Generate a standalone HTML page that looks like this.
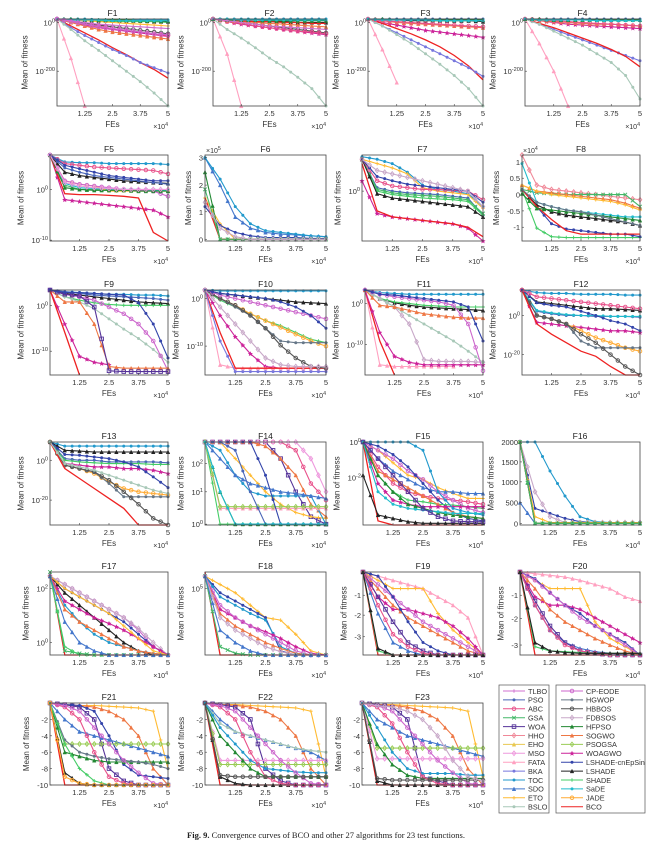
<!DOCTYPE html>
<html><head><meta charset="utf-8"><style>
html,body{margin:0;padding:0;background:#fff;}
body{width:653px;height:843px;position:relative;overflow:hidden;font-family:"Liberation Sans",sans-serif;}
svg{position:absolute;left:0;top:0;}
</style></head><body>
<svg id="fig" width="653" height="843" xmlns="http://www.w3.org/2000/svg"></svg>
<script>
// Algorithm names and colours
const algNames = ["TLBO","PSO","ABC","GSA","WOA","HHO","EHO","MSO","FATA","BKA","TOC","SDO","ETO","BSLO","CP-EODE","HGWOP","HBBOS","FDBSOS","HFPSO","SOGWO","PSOGSA","WOAGWO","LSHADE-cnEpSin","LSHADE","SHADE","SaDE","JADE","BCO"];
const algColors = ["#d070d0","#4a66b8","#e8508a","#44b868","#553399","#f08898","#e8c850","#ee99dd","#ffa0c0","#7777dd","#2299cc","#4477cc","#ffbb33","#a8c8b8","#cc66cc","#667788","#555555","#c8a8c8","#228833","#ee7744","#99cc55","#cc2299","#3344aa","#222222","#44cc66","#22bbcc","#ffaa33","#ee2222"];
const markerShapes = ["plus","dot","circle","x","square","diamond","tri","diamond","tri","dot","dot","tri","plus","dot","circle","dot","circle","diamond","tri","tri","diamond","star","dot","tri","plus","dot","circle","none"];
// x grid (×10^4) shared by every series
const fes = [0,0.625,1.25,1.875,2.5,3.125,3.75,4.375,5];
const xTicks = [1.25,2.5,3.75,5];
// Panel titles and their y ticks [label, depth% from top]
const titles = ["F1","F2","F3","F4","F5","F6","F7","F8","F9","F10","F11","F12","F13","F14","F15","F16","F17","F18","F19","F20","F21","F22","F23"];
const yTicks = [
 [["10^0",4],["10^-200",60]],[["10^0",4],["10^-200",60]],[["10^0",4],["10^-200",60]],[["10^0",4],["10^-200",60]],
 [["10^0",40],["10^-10",99]],[["3",3],["2",35],["1",66],["0",98]],[["10^0",42]],[["1",8],["0.5",27],["0",46],["-0.5",65],["-1",84]],
 [["10^0",18],["10^-10",72]],[["10^0",10],["10^-10",66]],[["10^0",16],["10^-10",64]],[["10^0",30],["10^-20",76]],
 [["10^0",22],["10^-20",70]],[["10^2",26],["10^1",60],["10^0",99]],[["10^0",0],["10^-2",43]],[["2000",0],["1500",24],["1000",48],["500",73],["0",98]],
 [["10^2",20],["10^0",85]],[["10^5",20]],[["-1",28],["-2",52],["-3",78]],[["-1",28],["-2",56],["-3",88]],
 [["-2",20],["-4",40],["-6",60],["-8",80],["-10",100]],[["-2",20],["-4",40],["-6",60],["-8",80],["-10",100]],[["-2",20],["-4",40],["-6",60],["-8",80],["-10",100]]
];
// Series per panel: [algorithmIndex, values as depth% at each fes point]
const F1 = [[1,0,1,1,2,2,2,2,2,2],[10,0,0,0,1,1,1,1,1,1],[23,0,1,1,2,2,2,2,3,3],[24,0,1,2,2,3,3,3,3,4],[16,0,3,5,7,9,11,13,15,17],[21,0,4,7,10,12,14,16,18,20],[2,0,3,6,8,11,13,15,17,19],[19,0,4,8,12,15,17,19,21,23],[27,0,8,16,24,33,41,50,58,68],[9,0,10,19,27,35,42,50,56,62],[13,0,12,25,36,48,60,72,85,100],[8,0,45,100,null,null,null,null,null,null],[12,0,1,2,3,4,5,6,7,8],[18,0,0,1,1,1,1,2,2,2],[25,0,1,1,1,2,2,2,2,2],[0,0,2,4,6,7,8,9,10,11],[14,0,3,6,9,11,13,15,17,18]];
const F2 = [[1,0,1,1,1,2,2,2,2,2],[10,0,0,0,0,0,0,0,0,0],[23,0,1,2,3,3,3,4,4,4],[16,0,2,4,6,8,10,12,14,16],[21,0,3,6,8,10,12,14,16,18],[2,0,3,5,8,10,12,14,15,17],[19,0,2,3,4,5,6,7,8,9],[13,0,12,22,33,45,55,67,80,100],[8,0,40,100,null,null,null,null,null,null],[27,0,1,2,3,3,4,4,5,5],[18,0,1,1,1,2,2,2,2,2],[25,0,0,1,1,1,1,1,1,1],[0,0,2,4,6,8,9,10,11,12]];
const F3 = [[1,0,0,0,0,0,0,0,0,0],[10,0,1,1,1,1,1,1,1,1],[23,0,1,1,2,2,2,2,2,3],[21,0,4,7,10,13,15,17,19,21],[19,0,2,4,5,6,7,8,9,10],[27,0,5,11,17,24,32,42,54,70],[9,0,8,16,24,32,40,48,56,66],[13,0,8,18,28,40,52,65,80,100],[8,0,35,73,null,null,null,null,null,null],[18,0,0,1,1,1,1,1,1,1],[2,0,2,3,4,5,6,7,8,9],[25,0,1,1,1,1,2,2,2,2]];
const F4 = [[1,0,0,0,0,0,0,0,0,0],[10,0,1,1,1,1,1,1,1,1],[21,0,2,4,6,7,8,9,10,11],[19,0,2,3,4,5,6,6,7,8],[9,0,6,12,18,24,30,36,42,48],[27,0,5,10,16,22,28,35,43,55],[13,0,6,14,22,30,40,50,65,92],[8,0,28,60,100,null,null,null,null,null],[2,0,1,2,3,4,5,6,7,8],[18,0,0,1,1,1,1,1,1,1],[25,0,1,1,1,1,2,2,2,2]];
const F5 = [[10,0,8,9,9,10,10,10,10,11],[2,0,10,12,14,15,16,17,18,22],[23,0,20,24,26,28,30,31,32,33],[1,0,15,20,24,26,28,30,32,34],[3,0,35,40,40,41,41,41,41,42],[25,0,33,38,39,40,40,40,41,41],[12,0,30,34,36,42,42,42,42,42],[14,0,30,34,36,38,40,41,42,48],[21,0,52,54,56,58,60,62,64,72],[27,0,45,46,46,47,48,50,90,100],[18,0,38,40,41,41,41,42,42,42],[22,0,12,16,20,24,26,28,30,30],[7,0,32,36,38,39,40,40,40,40]];
const F6 = [[11,3,35,72,85,90,92,93,94,95],[10,3,28,60,80,88,90,92,94,95],[12,50,80,98,98,98,98,98,98,98],[22,60,82,90,94,96,96,96,97,97],[18,20,98,98,98,98,98,98,98,98],[27,50,98,98,98,98,98,98,98,98],[3,40,98,98,98,98,98,98,98,98],[17,55,85,95,98,98,98,98,98,98]];
const F7 = [[10,2,5,10,20,35,40,42,45,60],[12,5,10,15,22,38,42,44,46,62],[1,5,38,42,44,45,46,48,50,70],[3,5,40,44,46,47,48,50,52,68],[24,5,42,46,48,50,51,52,54,70],[23,5,45,50,52,54,56,58,60,72],[21,30,68,72,74,76,78,80,85,100],[27,10,65,72,74,76,78,80,84,95],[2,5,30,36,38,40,40,41,42,52],[22,5,25,30,34,36,38,40,42,55],[17,5,18,22,26,30,34,38,42,60]];
const F8 = [[5,0,35,40,42,44,46,48,50,52],[24,40,85,95,96,96,96,96,96,96],[22,40,60,80,86,88,90,92,92,95],[23,40,58,66,70,72,74,76,78,82],[3,40,44,45,46,46,46,46,46,60],[19,35,42,44,46,48,50,52,56,62],[27,40,60,75,88,92,92,92,92,92],[12,35,42,46,48,50,52,54,58,64],[25,10,55,60,64,66,68,70,72,72],[18,45,62,64,66,68,70,72,74,76],[15,40,55,60,64,66,70,74,78,82]];
const F9 = [[10,0,2,3,4,5,5,6,6,7],[23,0,4,6,8,10,12,14,15,16],[1,0,2,4,6,7,8,9,10,12],[24,0,8,12,15,17,18,18,18,18],[13,0,8,14,22,34,46,57,70,85],[14,0,5,8,12,20,28,40,60,95],[21,0,40,78,85,88,null,null,null,null],[19,0,14,14,40,90,92,92,92,92],[4,0,5,7,20,95,96,96,96,96],[27,0,50,100,null,null,null,null,null,null],[22,0,3,3,4,5,6,15,40,80]];
const F10 = [[10,0,1,1,1,1,1,1,1,1],[23,0,4,6,8,10,12,14,15,16],[24,0,12,20,28,36,42,50,58,62],[26,0,10,18,28,36,44,52,60,66],[15,0,10,20,30,45,60,62,62,62],[21,0,30,55,75,90,92,92,92,92],[8,0,88,92,92,92,92,92,92,92],[27,0,50,92,92,92,92,92,92,92],[16,0,10,18,30,45,65,80,90,92],[14,0,6,10,14,18,22,26,30,34],[9,0,60,96,96,96,96,96,96,96],[22,0,4,6,8,10,14,20,30,45],[17,0,20,40,60,80,88,90,90,90]];
const F11 = [[10,0,3,4,5,5,5,5,5,5],[23,0,10,15,18,20,21,22,23,24],[24,0,10,14,16,18,19,20,20,20],[8,0,88,90,90,90,90,90,null,null],[27,0,60,100,null,null,null,null,null,null],[21,0,50,78,85,88,88,88,88,88],[17,0,10,20,40,82,84,84,84,85],[13,0,10,20,30,40,50,60,72,85],[14,0,5,8,10,12,14,18,40,95],[19,0,18,20,24,28,30,32,33,33],[22,0,5,6,8,10,12,14,20,60]];
const F12 = [[10,0,3,4,4,5,5,5,6,6],[23,0,14,16,18,20,22,22,23,24],[1,0,25,28,30,30,31,31,31,32],[25,0,24,27,29,30,30,31,31,31],[21,0,38,40,42,44,46,48,48,50],[26,0,30,34,40,48,56,62,68,72],[15,0,30,34,40,60,68,68,68,68],[16,0,30,34,40,52,62,76,90,100],[27,0,40,52,62,72,78,90,100,100],[22,0,15,18,20,25,30,36,40,48],[2,0,8,10,12,14,16,18,20,22]];
const F13 = [[10,0,5,5,5,5,5,5,5,5],[23,0,10,11,12,12,12,12,12,12],[1,0,20,22,22,24,24,24,24,25],[24,0,22,24,25,26,26,26,27,27],[21,0,26,28,30,30,32,32,34,38],[22,0,15,16,18,20,24,30,42,55],[26,0,28,32,38,48,56,60,62,64],[15,0,28,32,36,50,66,66,66,66],[16,0,28,32,36,46,60,75,92,100],[27,0,32,44,56,68,80,100,100,100],[13,0,26,30,34,40,46,52,58,62]];
const F14 = [[4,0,0,0,0,0,20,60,90,99],[2,0,0,0,0,0,0,10,50,70],[7,0,0,0,0,0,0,0,20,60],[19,0,0,0,0,5,20,40,75,90],[12,0,0,20,40,60,75,85,90,92],[10,0,10,40,60,65,65,65,65,99],[24,0,99,99,99,99,99,99,99,99],[18,0,60,99,99,99,99,99,99,99],[11,0,20,40,50,55,60,62,65,68],[8,0,80,80,80,80,80,80,80,80],[20,0,78,78,78,78,78,78,78,78],[22,0,0,0,0,40,99,99,99,99],[1,0,0,10,60,99,99,99,99,99],[25,0,60,99,99,99,99,99,99,99]];
const F15 = [[27,0,95,100,100,100,100,100,100,100],[23,40,88,92,96,98,98,98,98,98],[12,0,10,25,40,45,55,62,68,68],[11,0,20,35,45,55,60,60,62,62],[2,0,30,50,60,65,68,70,72,75],[14,0,10,20,35,45,60,70,80,85],[22,0,5,15,30,50,70,85,92,95],[24,0,40,60,70,72,75,76,78,80],[19,0,35,45,55,65,75,85,90,92],[21,0,50,70,75,78,78,78,78,78],[10,0,0,0,0,10,60,80,85,88],[18,0,40,60,75,80,85,88,90,92],[25,0,60,75,80,82,84,86,86,86],[4,0,20,40,60,80,90,95,96,96]];
const F16 = [[10,0,0,35,65,90,96,97,97,97],[22,0,80,86,92,96,97,97,97,97],[17,0,60,90,97,97,97,97,97,97],[12,0,90,97,97,97,97,97,97,97],[11,73,98,98,98,98,98,98,98,98],[27,0,98,98,98,98,98,98,98,98],[18,0,98,98,98,98,98,98,98,98],[3,0,98,98,98,98,98,98,98,98]];
const F17 = [[27,0,100,100,100,100,100,100,100,100],[3,0,95,98,100,100,100,100,100,100],[14,5,15,25,35,45,55,70,90,100],[17,5,15,25,35,45,55,68,85,100],[22,5,20,30,40,50,60,75,90,100],[23,5,25,40,55,70,85,95,100,100],[10,5,40,60,75,85,90,95,98,100],[21,5,35,45,55,62,70,80,90,100],[19,5,45,60,70,80,90,95,98,100],[24,5,90,100,100,100,100,100,100,100],[12,5,20,30,40,50,65,80,95,100],[11,5,60,85,95,100,100,100,100,100]];
const F18 = [[27,0,100,100,100,100,100,100,100,100],[12,5,15,25,40,55,58,75,95,100],[22,5,25,35,45,55,95,100,100,100],[10,5,30,40,50,58,90,98,100,100],[21,5,45,55,65,72,80,90,98,100],[14,5,40,55,65,75,85,95,100,100],[19,5,50,65,75,85,92,98,100,100],[3,5,90,98,100,100,100,100,100,100],[17,5,55,70,80,90,96,100,100,100],[11,5,70,85,95,100,100,100,100,100]];
const F19 = [[27,0,100,100,100,100,100,100,100,100],[8,0,5,10,15,20,30,40,55,100],[12,0,10,20,20,20,50,70,85,100],[21,0,30,45,45,50,55,65,80,100],[19,0,20,40,55,65,75,85,95,100],[14,0,15,30,45,60,70,80,90,100],[22,0,5,30,60,85,95,100,100,100],[4,0,30,60,85,95,100,100,100,100],[11,0,50,85,95,100,100,100,100,100],[2,0,40,75,90,98,100,100,100,100],[24,0,95,100,100,100,100,100,100,100],[23,0,92,100,100,100,100,100,100,100]];
const F20 = [[27,0,100,100,100,100,100,100,100,100],[8,0,2,4,6,10,15,20,30,35],[12,0,10,20,20,20,60,80,90,100],[21,0,30,40,40,45,55,65,75,85],[19,0,20,45,60,70,80,88,95,100],[22,0,8,25,40,50,65,75,85,100],[14,0,10,25,40,55,65,75,88,100],[11,0,40,70,85,92,96,98,100,100],[4,0,35,65,85,95,98,100,100,100],[2,0,40,70,88,95,98,100,100,100],[24,0,90,95,96,97,98,98,98,98],[23,0,85,95,97,98,98,98,98,98]];
const F21 = [[27,0,100,100,100,100,100,100,100,100],[23,0,85,98,100,100,100,100,100,100],[12,0,3,3,3,4,5,6,10,80],[19,0,2,3,5,10,20,40,80,100],[4,0,2,5,20,80,95,100,100,100],[22,0,2,3,10,40,75,88,90,92],[11,0,20,35,40,45,50,55,60,65],[20,0,50,50,50,50,50,50,50,50],[18,0,60,65,70,72,72,72,72,72],[15,0,45,60,65,68,70,72,75,80],[24,0,50,80,95,100,100,100,100,100],[2,0,5,20,60,90,98,100,100,100],[14,0,3,10,30,50,70,85,98,100],[26,0,90,98,100,100,100,100,100,100]];
const F22 = [[27,0,100,100,100,100,100,100,100,100],[23,0,90,98,100,100,100,100,100,100],[12,0,2,2,3,4,5,6,10,90],[19,0,2,3,5,10,20,40,80,100],[4,0,2,5,20,80,95,100,100,100],[11,0,20,35,40,45,50,55,60,70],[13,0,25,35,40,45,50,55,58,60],[7,0,70,70,70,70,70,70,70,70],[20,0,75,75,75,75,75,75,75,75],[18,0,40,60,80,90,90,90,90,90],[10,0,30,50,70,80,82,84,85,85],[2,0,5,20,60,90,98,100,100,100],[14,0,3,10,30,50,70,85,98,100],[16,0,88,90,90,90,90,90,90,90]];
const F23 = [[27,0,100,100,100,100,100,100,100,100],[23,0,95,100,100,100,100,100,100,100],[12,0,2,2,3,4,5,6,10,90],[19,0,2,3,5,10,20,40,80,100],[4,0,2,5,20,90,95,100,100,100],[11,0,20,30,40,45,50,55,60,65],[20,0,55,55,55,55,55,55,55,55],[7,0,68,68,68,68,68,68,68,68],[18,0,50,75,88,92,92,92,92,92],[10,0,30,60,80,86,86,86,88,88],[2,0,5,25,60,90,98,100,100,100],[14,0,3,10,30,50,70,85,98,100],[16,0,92,94,94,94,94,94,94,94],[17,0,3,5,10,20,40,70,90,95]];
const panelSeries = [F1,F2,F3,F4,F5,F6,F7,F8,F9,F10,F11,F12,F13,F14,F15,F16,F17,F18,F19,F20,F21,F22,F23];
const yExp = [null,null,null,null,null,"×10^5",null,"×10^4",null,null,null,null,null,null,null,null,null,null,null,null,null,null,null];

const NS = "http://www.w3.org/2000/svg";
const svg = document.getElementById("fig");
function mk(tag, attrs, parent){const e=document.createElementNS(NS,tag);for(const k in attrs)e.setAttribute(k,attrs[k]);(parent||svg).appendChild(e);return e;}
function supText(parent, x, y, str, anchor, size){
  const t = mk("text",{x:x,y:y,"text-anchor":anchor,"font-size":size,fill:"#333"},parent);
  const parts = str.split("^");
  t.appendChild(document.createTextNode(parts[0]));
  if(parts[1]){const s=mk("tspan",{dy:-3,"font-size":size*0.75},t);s.textContent=parts[1];}
  return t;
}
const colL = [[57,213,368,525],[50,205,362,522],[50,205,365,522],[50,205,363,520],[50,205,363,520],[50,205,362,520]];
const colR = [168,326,483,640];
const rowT = [19,155,290,442,572,703];
const rowB = [106,241,375,525,655,785];

function drawMarker(g, shape, x, y, c){
  const r=1.8;
  let m=null;
  if(shape==="none") return;
  if(shape==="dot") m=mk("circle",{cx:x,cy:y,r:1.5,fill:c},g);
  else if(shape==="circle") m=mk("circle",{cx:x,cy:y,r:r,fill:"none",stroke:c,"stroke-width":0.9},g);
  else if(shape==="square") m=mk("rect",{x:x-r,y:y-r,width:2*r,height:2*r,fill:"none",stroke:c,"stroke-width":0.9},g);
  else if(shape==="diamond") m=mk("polygon",{points:`${x},${y-r-0.5} ${x+r},${y} ${x},${y+r+0.5} ${x-r},${y}`,fill:"none",stroke:c,"stroke-width":0.9},g);
  else if(shape==="tri") m=mk("polygon",{points:`${x},${y-r} ${x+r},${y+r} ${x-r},${y+r}`,fill:c,stroke:c,"stroke-width":0.5},g);
  else if(shape==="star") m=mk("polygon",{points:`${x},${y-2.5} ${x+0.8},${y-0.8} ${x+2.5},${y-0.6} ${x+1.2},${y+0.6} ${x+1.6},${y+2.4} ${x},${y+1.4} ${x-1.6},${y+2.4} ${x-1.2},${y+0.6} ${x-2.5},${y-0.6} ${x-0.8},${y-0.8}`,fill:c},g);
  else if(shape==="plus") m=mk("path",{d:`M${x-r},${y}H${x+r}M${x},${y-r}V${y+r}`,stroke:c,"stroke-width":0.9},g);
  else if(shape==="x") m=mk("path",{d:`M${x-r},${y-r}L${x+r},${y+r}M${x-r},${y+r}L${x+r},${y-r}`,stroke:c,"stroke-width":0.9},g);
  if(m){
    
    
  }
}

for(let p=0;p<23;p++){
  const row=Math.floor(p/4), col=p%4;
  const L=colL[row][col], R=colR[col], T=rowT[row], B=rowB[row];
  const W=R-L, H=B-T;
  const xs = v => L + v/5*W;
  const ys = d => T + d/100*H;
  const g = mk("g",{});
  
  
  const clipId="clip"+p;
  const cp=mk("clipPath",{id:clipId},g); mk("rect",{x:L-3,y:T-3,width:W+6,height:H+6},cp);
  const pg = mk("g",{"clip-path":`url(#${clipId})`},g);
  
  
  const ser = panelSeries[p];
  for(const s of ser){
    const a=s[0], c=algColors[a];
    let d="";
    const pts=[];
    for(let i=0;i<fes.length;i++){const v=s[i+1]; if(v===null||v===undefined) break; pts.push([xs(fes[i]),ys(v)]);}
    pts.forEach((q,i)=>{d+=(i?"L":"M")+q[0].toFixed(1)+","+q[1].toFixed(1);});
    const line=mk("path",{d:d,fill:"none",stroke:c,"stroke-width":a===27?1.3:1.1},pg);
    
    
    pts.forEach((q,i)=>{
      drawMarker(pg, markerShapes[a], q[0], q[1], c);
      if(i>0){const pr=pts[i-1]; drawMarker(pg, markerShapes[a], (pr[0]+q[0])/2, (pr[1]+q[1])/2, c);}
    });
  }
  const box=mk("rect",{x:L,y:T,width:W,height:H,fill:"none",stroke:"#444","stroke-width":0.8},g);
  
  
  const title=mk("text",{x:(L+R)/2,y:T-3,"text-anchor":"middle","font-size":8.5,fill:"#222"},g);
  title.textContent=titles[p];
  
  
  for(const tv of xTicks){
    const x=xs(tv);
    mk("line",{x1:x,y1:B,x2:x,y2:B-2,stroke:"#444","stroke-width":0.6},g);
    const t=mk("text",{x:x,y:B+10,"text-anchor":"middle","font-size":7.5,fill:"#333"},g);
    t.textContent=String(tv);
    
    
  }
  const xl=mk("text",{x:(L+R)/2,y:B+21,"text-anchor":"middle","font-size":8,fill:"#333"},g);
  xl.textContent="FEs";
  
  
  const ex=supText(g,R,B+23,"×10^4","end",7);
  
  
  let maxW=0;
  for(const tk of yTicks[p]){
    const y=ys(tk[1]);
    mk("line",{x1:L,y1:y,x2:L+2,y2:y,stroke:"#444","stroke-width":0.6},g);
    const t=supText(g,L-2,y+3,tk[0],"end",7.5);
    
    
    let w=0; try{w=t.getComputedTextLength();}catch(e){w=tk[0].length*4;}
    if(!w) w=tk[0].length*4;
    maxW=Math.max(maxW,w);
  }
  if(yExp[p]){const e=supText(g,L+1,T-2,yExp[p],"start",7);
    
    }
  const off = maxW + 10;
  const yl=mk("text",{x:0,y:0,"text-anchor":"middle","font-size":8,fill:"#333",transform:`translate(${L-off},${(T+B)/2}) rotate(-90)`},g);
  yl.textContent="Mean of fitness";
  
  
}

// Legend
const lg = mk("g",{});


mk("rect",{x:499,y:685,width:50,height:128,fill:"#fff",stroke:"#555","stroke-width":0.7},lg);
mk("rect",{x:556,y:685,width:89,height:128,fill:"#fff",stroke:"#555","stroke-width":0.7},lg);
for(let a=0;a<28;a++){
  const colI=a<14?0:1, k=a%14;
  const x0=colI?561:503, y=691+k*8.9;
  const e=mk("g",{},lg);
  
  
  mk("line",{x1:x0,y1:y,x2:x0+22,y2:y,stroke:algColors[a],"stroke-width":1},e);
  drawMarker(e, markerShapes[a], x0+11, y, algColors[a]);
  const t=mk("text",{x:x0+25,y:y+2.8,"font-size":7.3,fill:"#333"},e);
  t.textContent=algNames[a];
}
const cap=mk("text",{x:326,y:838,"text-anchor":"middle","font-size":8.5,fill:"#222","font-family":"Liberation Serif, serif"});


const b=mk("tspan",{"font-weight":"bold"},cap); b.textContent="Fig. 9. ";
const r=mk("tspan",{},cap); r.textContent=" Convergence curves of BCO and other 27 algorithms for 23 test functions.";
</script>
</body></html>
